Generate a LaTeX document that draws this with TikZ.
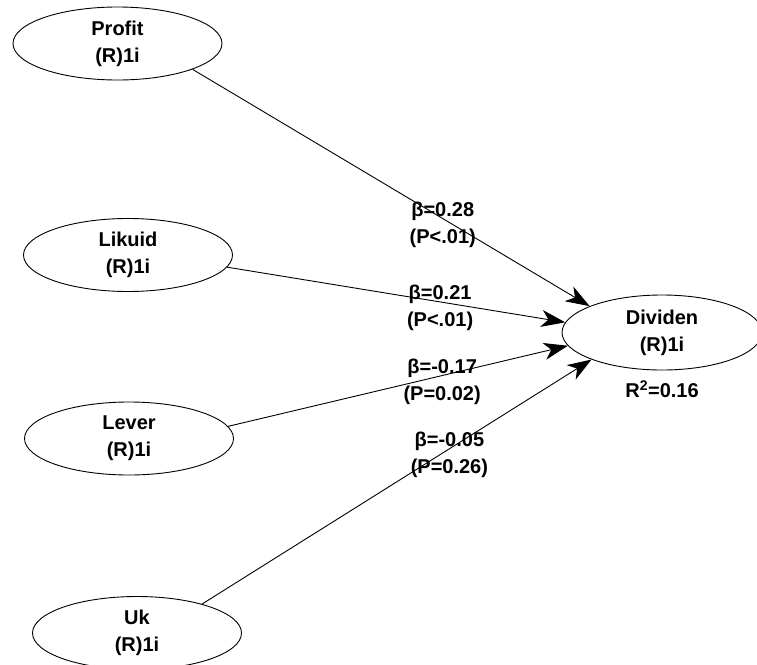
\documentclass[tikz,border=0pt]{standalone}
\usepackage{fontspec}
\setmainfont{Liberation Sans}
\usetikzlibrary{shapes.geometric,arrows.meta,positioning}

\tikzset{
	latent/.style = {ellipse, draw, line width = 0.9pt, inner sep = 0pt, minimum width = 209pt, minimum height = 73pt, align = center},
	path/.style = {line width = 0.9pt, -{Stealth[length = 24pt, width = 17pt, inset = 7pt]}},
	coef/.style = {align = center, inner sep = 0pt, yshift = -6pt}
}

\begin{document}
\begin{tikzpicture}[x = 1pt, y = -1pt, font = \bfseries\fontsize{20}{27}\selectfont]
	\useasboundingbox (0, 0) rectangle (757, 664);
	\node [latent] (profit) at (117.5, 43.5) {Profit\\(R)1i};
	\node [latent] (likuid) at (128, 255) {Likuid\\(R)1i};
	\node [latent] (lever) at (129, 438.5) {Lever\\(R)1i};
	\node [latent] (uk) at (137, 633) {Uk\\(R)1i};
	\node [latent, minimum width = 200pt, minimum height = 75pt] (dividen) at (662, 332.5) {Dividen\\(R)1i};
	\node [below = 10pt of dividen, inner sep = 0pt] (rsq) {R\textsuperscript{2}=0.16};
	\draw [path] (profit.-19) -- node [coef, pos = 0.63] (b1) {β=0.28\\(P<.01)} (dividen.160);
	\draw [path] (likuid.-7) -- node [coef, pos = 0.63] (b2) {β=0.21\\(P<.01)} (dividen.174);
	\draw [path] (lever.7) -- node [coef, pos = 0.63] (b3) {β=-0.17\\(P=0.02)} (dividen.-172);
	\draw [path] (uk.24) -- node [coef, pos = 0.635] (b4) {β=-0.05\\(P=0.26)} (dividen.-159);
\end{tikzpicture}
\end{document}
